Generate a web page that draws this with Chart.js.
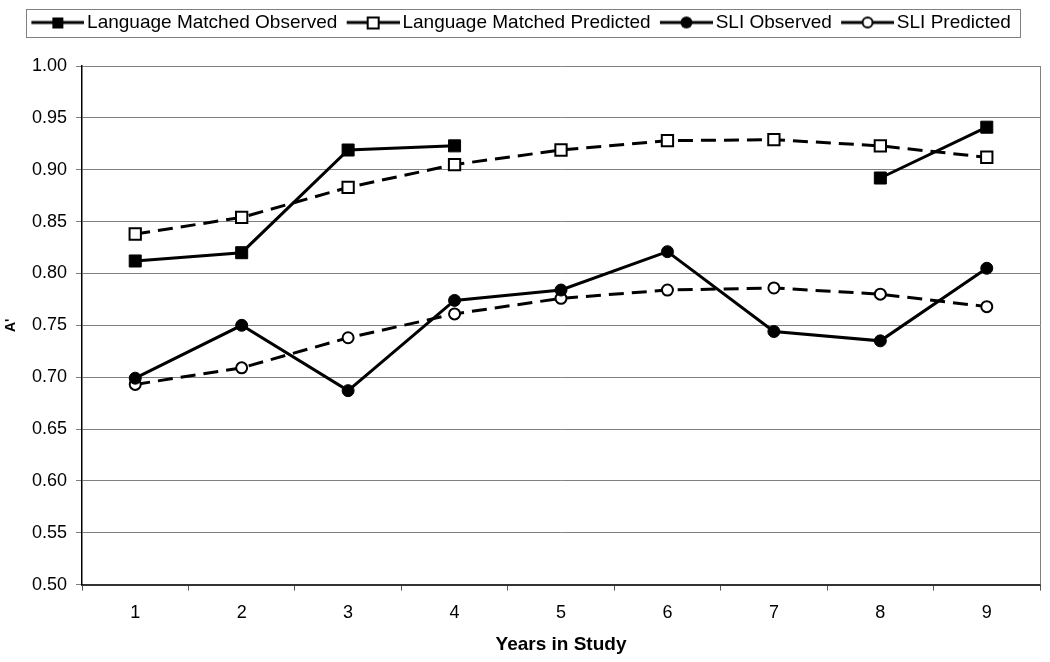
<!DOCTYPE html>
<html>
<head>
<meta charset="utf-8">
<script src="https://cdn.jsdelivr.net/npm/chart.js@4.4.1/dist/chart.umd.min.js"></script>
<style>
  html, body { margin: 0; padding: 0; background: #fff; }
  #wrap { width: 1050px; height: 662px; position: relative; }
</style>
</head>
<body>
<div id="wrap"><canvas id="aprimeChart"></canvas></div>
<script>
// values (A' by year in study)
const years = ['1', '2', '3', '4', '5', '6', '7', '8', '9'];
const lmObserved   = [0.812, 0.820, 0.919, 0.923, null, null, null, 0.892, 0.941];
const lmPredicted  = [0.838, 0.854, 0.883, 0.905, 0.919, 0.928, 0.929, 0.923, 0.912];
const sliObserved  = [0.699, 0.750, 0.687, 0.774, 0.784, 0.821, 0.744, 0.735, 0.805];
const sliPredicted = [0.693, 0.709, 0.738, 0.761, 0.776, 0.784, 0.786, 0.780, 0.768];
const seriesNames  = ['Language Matched Observed', 'Language Matched Predicted', 'SLI Observed', 'SLI Predicted'];

const FONT = 'Arial, "Liberation Sans", sans-serif';

// little line+marker pictures for the legend
function legendSymbol(shape, filled) {
    const c = document.createElement('canvas');
    c.width = 60; c.height = 16;
    const g = c.getContext('2d');
    g.strokeStyle = '#000';
    g.lineWidth = 3;
    g.beginPath(); g.moveTo(7, 8); g.lineTo(60, 8); g.stroke();
    g.fillStyle = filled ? '#000' : '#fff';
    g.lineWidth = 2;
    if (shape === 'rect') {
        g.fillRect(28, 3, 11, 11);
        if (!filled) g.strokeRect(28, 3, 11, 11);
    } else {
        g.beginPath(); g.arc(33.5, 8, filled ? 6 : 5, 0, Math.PI * 2);
        g.fill(); if (!filled) g.stroke();
    }
    return c;
}
const symbols = [
    legendSymbol('rect', true),
    legendSymbol('rect', false),
    legendSymbol('circle', true),
    legendSymbol('circle', false)
];

// box round the legend, the right edge of the plot, and extra room under the legend
const frame = {
    id: 'frame',
    afterInit(chart) {
        const lg = chart.legend;
        if (lg && !lg._padded) {
            const fit = lg.fit;
            lg.fit = function () { fit.call(this); this.height += 24; };
            lg._padded = true;
        }
    },
    afterDraw(chart) {
        const ctx = chart.ctx;
        const a = chart.chartArea;
        ctx.save();
        ctx.strokeStyle = '#808080';
        ctx.lineWidth = 1;
        ctx.beginPath();
        ctx.moveTo(a.right + 0.5, a.top);
        ctx.lineTo(a.right + 0.5, a.bottom);
        ctx.stroke();
        const boxes = chart.legend.legendHitBoxes;
        if (boxes && boxes.length) {
            const l = Math.min(...boxes.map(b => b.left)) - 5;
            const r = Math.max(...boxes.map(b => b.left + b.width)) + 9;
            const cy = boxes[0].top + boxes[0].height / 2;
            ctx.strokeRect(Math.round(l) + 0.5, Math.round(cy - 14) + 0.5, Math.round(r - l), 28);
        }
        ctx.restore();
    }
};

const ctx = document.getElementById('aprimeChart').getContext('2d');
const aprimeChart = new Chart(ctx, {
    type: 'line',
    data: {
        labels: years,
        datasets: [{
            label: seriesNames[0],
            data: lmObserved,
            borderColor: '#000',
            borderWidth: 3,
            pointStyle: 'rect',
            pointRadius: 8.5,
            pointBackgroundColor: '#000',
            pointBorderColor: '#000',
            pointBorderWidth: 1,
            tension: 0
        }, {
            label: seriesNames[1],
            data: lmPredicted,
            borderColor: '#000',
            borderWidth: 3,
            borderDash: [15, 8],
            pointStyle: 'rect',
            pointRadius: 8,
            pointBackgroundColor: '#fff',
            pointBorderColor: '#000',
            pointBorderWidth: 2,
            tension: 0
        }, {
            label: seriesNames[2],
            data: sliObserved,
            borderColor: '#000',
            borderWidth: 3,
            pointStyle: 'circle',
            pointRadius: 6,
            pointBackgroundColor: '#000',
            pointBorderColor: '#000',
            pointBorderWidth: 1,
            tension: 0
        }, {
            label: seriesNames[3],
            data: sliPredicted,
            borderColor: '#000',
            borderWidth: 3,
            borderDash: [15, 8],
            pointStyle: 'circle',
            pointRadius: 5.5,
            pointBackgroundColor: '#fff',
            pointBorderColor: '#000',
            pointBorderWidth: 2,
            tension: 0
        }]
    },
    options: {
        responsive: true,
        maintainAspectRatio: false,
        animation: false,
        layout: { padding: { top: 4, right: 8, bottom: 6, left: 0 } },
        scales: {
            x: {
                offset: true,
                grid: { display: true, offset: true, drawOnChartArea: false, tickLength: 6, color: '#555' },
                border: { color: '#333', width: 2 },
                ticks: { color: '#000', font: { family: FONT, size: 18 }, padding: 12 },
                title: {
                    display: true,
                    text: 'Years in Study',
                    color: '#000',
                    font: { family: FONT, size: 19, weight: 'bold' },
                    padding: { top: -3, bottom: 0 }
                }
            },
            y: {
                min: 0.5,
                max: 1.0,
                afterFit: s => { s.width = 82; },
                grid: { color: '#808080', tickLength: 6 },
                border: { color: '#000', width: 1.5 },
                ticks: {
                    stepSize: 0.05,
                    autoSkip: false,
                    color: '#000',
                    font: { family: FONT, size: 18 },
                    padding: 9,
                    callback: v => v.toFixed(2)
                },
                title: {
                    display: true,
                    text: "A'",
                    color: '#000',
                    font: { family: FONT, size: 14, weight: 'bold' },
                    padding: { top: 3, bottom: 0 }
                }
            }
        },
        plugins: {
            legend: {
                position: 'top',
                labels: {
                    usePointStyle: true,
                    pointStyleWidth: 46.5,
                    color: '#000',
                    font: { family: FONT, size: 19 },
                    padding: 9,
                    generateLabels: chart => chart.data.datasets.map((ds, i) => ({
                        text: ds.label,
                        pointStyle: symbols[i],
                        datasetIndex: i,
                        hidden: false,
                        lineWidth: 0,
                        fillStyle: '#000',
                        strokeStyle: '#000',
                        fontColor: '#000'
                    }))
                }
            },
            tooltip: { enabled: false }
        }
    },
    plugins: [frame]
});
</script>
</body>
</html>
